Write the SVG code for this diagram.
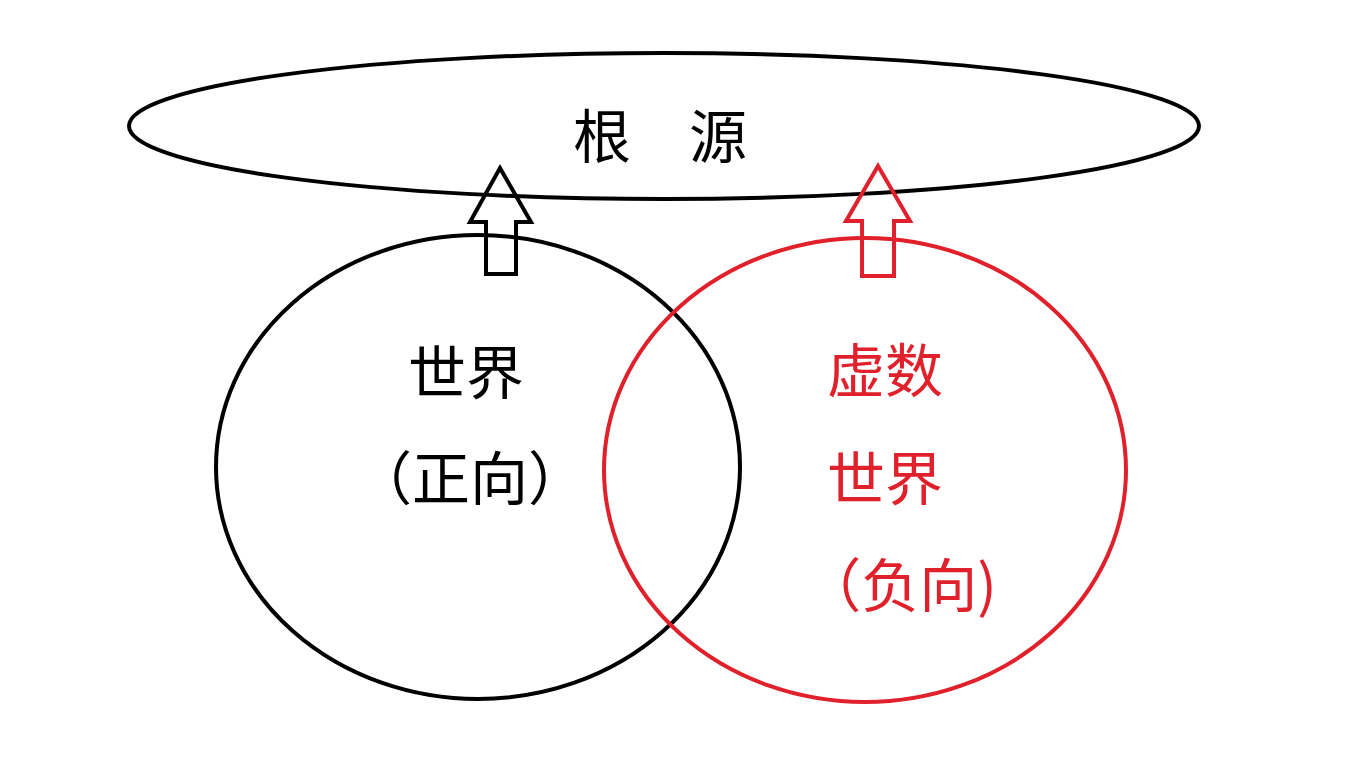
<svg xmlns="http://www.w3.org/2000/svg" width="1366" height="768" viewBox="0 0 1366 768">
<style>
.k{fill:none;stroke:#000;stroke-width:4}
.r{fill:none;stroke:#e0202a;stroke-width:4}
text{font-family:"Noto Sans CJK SC","Noto Sans",sans-serif;font-size:58px;text-anchor:middle}
.t{fill:#000}.tr{fill:#e0202a}
</style>
<rect width="1366" height="768" fill="#fff"/>
<g id="root"><ellipse class="k" cx="664" cy="126" rx="535" ry="73"/><text class="t" x="660" y="158">根　源</text></g>
<g id="world"><ellipse class="k" cx="478" cy="467" rx="262" ry="232"/><text class="t" x="466" y="394">世界</text><text class="t" x="470" y="500">（正向）</text></g>
<g id="imag"><ellipse class="r" cx="865" cy="470" rx="261" ry="232"/><text class="tr" x="885" y="392">虚数</text><text class="tr" x="885" y="500">世界</text><text class="tr" x="900" y="607">（负向)</text></g>
<g id="connectors">
<path class="k" d="M500 168 L531 222 L516 222 L516 274 L486 274 L486 222 L470 222 Z" stroke-width="3.5"/>
<path class="r" d="M878 166 L910 221 L894 221 L894 276 L862 276 L862 221 L846 221 Z" stroke-width="3.5"/>
</g>
</svg>
